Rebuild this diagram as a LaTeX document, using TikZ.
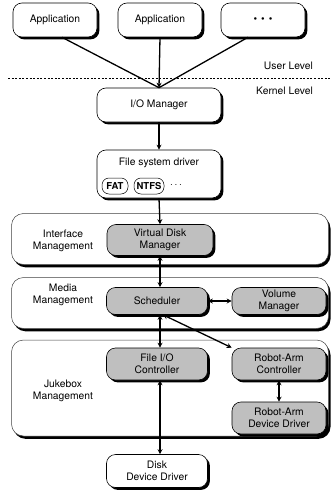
\documentclass[tikz,border=0pt]{standalone}
\usepackage{fontspec}
\setmainfont{TeX Gyre Heros}
\usetikzlibrary{shadows,arrows.meta,shapes.geometric}
\begin{document}
\begin{tikzpicture}[x=1pt,y=-1pt,
  font=\fontsize{10.3}{11.8}\selectfont,
  shad/.style={drop shadow={shadow xshift=2.4pt, shadow yshift=-2.4pt, opacity=1, fill=black}},
  box/.style={draw=black, line width=0.6pt, rounded corners=9pt, fill=white, align=center, inner sep=0pt, shad},
  gbox/.style={box, fill=gray!50},
  panel/.style={draw=black!75, line width=0.5pt, rounded corners=12pt, fill=white, inner sep=0pt, drop shadow={shadow xshift=2pt, shadow yshift=-2.8pt, opacity=1, fill=black}},
  lbl/.style={align=center, inner sep=0pt},
  oval/.style={draw, line width=0.5pt, rounded corners=7pt, inner xsep=2pt, inner ysep=0pt, minimum height=16pt, font=\fontsize{9.5}{11}\selectfont\bfseries},
  conn/.style={line width=1.3pt},
  tipa/.tip={Stealth[length=5pt,width=5pt]},
  aconn/.style={conn, -tipa},
  dconn/.style={conn, tipa-tipa}
]
\useasboundingbox (0,0) rectangle (331,492);

% panels
\node[panel, minimum width=317pt, minimum height=51pt] (pif) at (170,239) {};
\node[panel, minimum width=317pt, minimum height=51pt] (pmd) at (170,303) {};
\node[panel, minimum width=317pt, minimum height=96pt] (pjb) at (170,388) {};
\node[lbl] (lif) at (63,241) {Interface\\Management};
\node[lbl] (lmd) at (63,295) {Media\\Management};
\node[lbl] (ljb) at (63,391) {Jukebox\\Management};

% top level
\node[box, minimum width=84pt, minimum height=34pt] (a1) at (55,20) {Application};
\node[box, minimum width=84pt, minimum height=34pt] (a2) at (160,20) {Application};
\node[box, minimum width=84pt, minimum height=34pt] (a3) at (263,20) {\textbullet\hspace{4pt}\textbullet\hspace{4pt}\textbullet};

\coordinate (dl) at (8,78);
\coordinate (dr) at (331,78);
\draw[line width=0.8pt, dash pattern=on 2pt off 1.6pt] (dl) -- (dr);
\node[lbl, anchor=east] (ul) at (313,66) {User Level};
\node[lbl, anchor=east] (kl) at (313,91) {Kernel Level};

\node[box, minimum width=124pt, minimum height=34pt] (io) at (159,105) {I/O Manager};
\node[box, minimum width=124pt, minimum height=48pt] (fsd) at (159,174) {};
\node[lbl] (fsdt) at (159,163) {File system driver};
\node[oval, minimum width=26pt] (fat) at (115,186) {FAT};
\node[oval, minimum width=30pt] (ntfs) at (149,186) {NTFS};
\node[lbl] (fdots) at (176,185) {$\cdots$};

% grey boxes
\node[gbox, minimum width=106pt, minimum height=31pt] (vdm) at (160,240) {Virtual Disk\\Manager};
\node[gbox, minimum width=101pt, minimum height=27pt] (sch) at (157,301) {Scheduler};
\node[gbox, minimum width=94pt, minimum height=27pt] (vol) at (279,301) {Volume\\Manager};
\node[gbox, minimum width=101pt, minimum height=32pt] (fio) at (157,364) {File I/O\\Controller};
\node[gbox, minimum width=94pt, minimum height=32pt] (rac) at (279,364) {Robot-Arm\\Controller};
\node[gbox, minimum width=94pt, minimum height=32pt] (rad) at (279,418) {Robot-Arm\\Device Driver};

\node[box, minimum width=101pt, minimum height=33pt] (ddd) at (157,471) {Disk\\Device Driver};

% connectors
\draw[conn] ([xshift=7pt]a1.south) -- (io.north);
\draw[aconn] (a2.south) -- (io.north);
\draw[conn] ([xshift=-15pt]a3.south) -- (io.north);
\draw[aconn] (io.south) -- (fsd.north);
\draw[aconn] (fsd.south) -- (vdm.north);
\draw[dconn] (vdm.south) -- (sch.north -| vdm.south);
\draw[dconn] (sch.east) -- (vol.west);
\draw[dconn] ([xshift=3pt]sch.south) -- ([xshift=3pt]fio.north);
\draw[dconn] ([xshift=6pt]sch.south) -- (rac.north west);
\draw[dconn] (rac.south) -- (rad.north);
\draw[dconn] ([xshift=3pt]fio.south) -- ([xshift=3pt]ddd.north);
\end{tikzpicture}
\end{document}
